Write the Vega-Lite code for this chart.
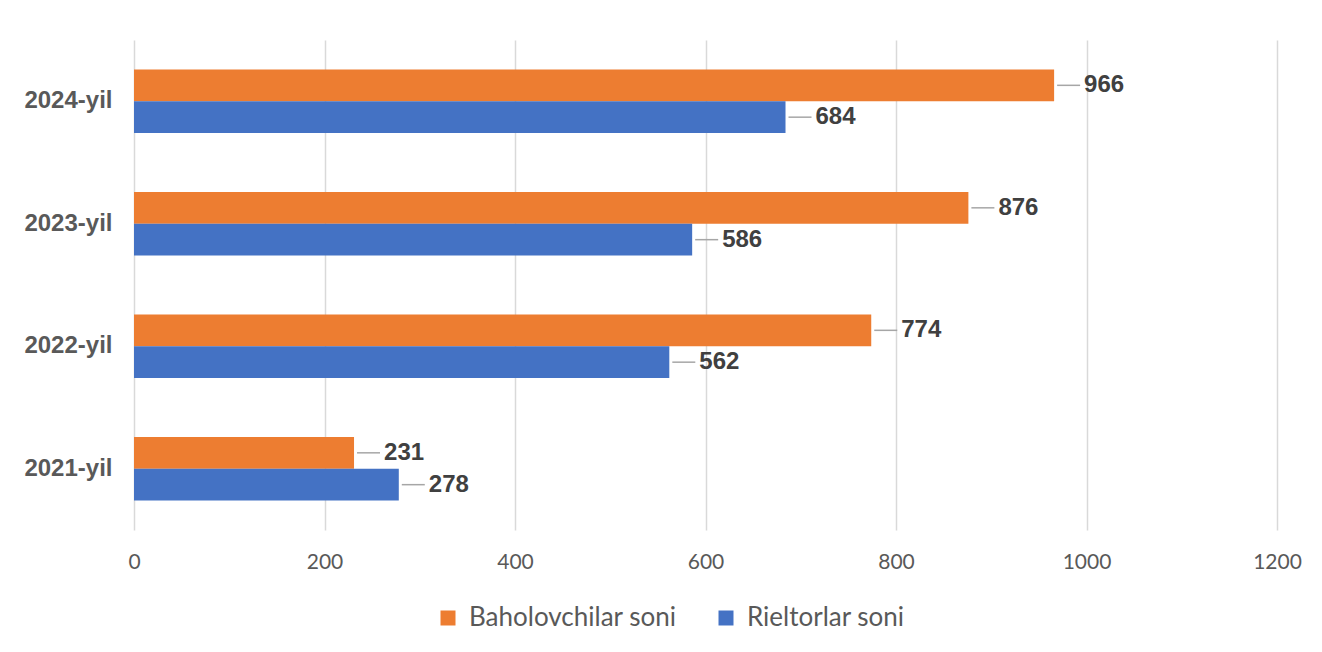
{
  "$schema": "https://vega.github.io/schema/vega-lite/v6.json",
  "width": 1143,
  "height": 490,
  "autosize": {"type": "none"},
  "padding": {"left": 134, "top": 40, "right": 45, "bottom": 122},
  "background": "white",
  "config": {"view": {"stroke": null}},
  "data": {
    "values": [
      {"year": "2024-yil", "series": "Baholovchilar soni", "value": 966},
      {"year": "2024-yil", "series": "Rieltorlar soni", "value": 684},
      {"year": "2023-yil", "series": "Baholovchilar soni", "value": 876},
      {"year": "2023-yil", "series": "Rieltorlar soni", "value": 586},
      {"year": "2022-yil", "series": "Baholovchilar soni", "value": 774},
      {"year": "2022-yil", "series": "Rieltorlar soni", "value": 562},
      {"year": "2021-yil", "series": "Baholovchilar soni", "value": 231},
      {"year": "2021-yil", "series": "Rieltorlar soni", "value": 278}
    ]
  },
  "encoding": {
    "y": {
      "field": "year",
      "type": "nominal",
      "sort": ["2024-yil", "2023-yil", "2022-yil", "2021-yil"],
      "scale": {"paddingInner": 0.48, "paddingOuter": 0.24},
      "axis": {
        "title": null,
        "domain": false,
        "ticks": false,
        "grid": false,
        "labelFont": "Liberation Sans",
        "labelFontWeight": "bold",
        "labelFontSize": 24,
        "labelColor": "#595959",
        "labelPadding": 22
      }
    },
    "yOffset": {
      "field": "series",
      "type": "nominal",
      "sort": ["Baholovchilar soni", "Rieltorlar soni"],
      "scale": {"paddingInner": 0, "paddingOuter": 0}
    },
    "x": {
      "field": "value",
      "type": "quantitative",
      "scale": {"domain": [0, 1200], "nice": false},
      "axis": {
        "title": null,
        "values": [0, 200, 400, 600, 800, 1000, 1200],
        "format": "d",
        "labelFlush": false,
        "domain": false,
        "ticks": false,
        "grid": true,
        "gridColor": "#D9D9D9",
        "gridWidth": 1.5,
        "labelFont": "Lato",
        "labelFontSize": 21,
        "labelColor": "#595959",
        "labelPadding": 21
      }
    }
  },
  "layer": [
    {
      "mark": {"type": "bar"},
      "encoding": {
        "color": {
          "field": "series",
          "type": "nominal",
          "scale": {
            "domain": ["Baholovchilar soni", "Rieltorlar soni"],
            "range": ["#ED7D31", "#4472C4"]
          },
          "legend": {
            "title": null,
            "orient": "none",
            "legendX": 301,
            "legendY": 565,
            "direction": "horizontal",
            "symbolType": "square",
            "symbolSize": 225,
            "symbolStrokeWidth": 0,
            "labelFont": "Lato",
            "labelFontSize": 26,
            "labelColor": "#595959",
            "labelOffset": 8,
            "columnPadding": 36,
            "labelLimit": 400
          }
        }
      }
    },
    {
      "mark": {"type": "rule", "xOffset": 3, "x2Offset": 26, "color": "#A6A6A6", "strokeWidth": 1.5},
      "encoding": {"x2": {"field": "value"}}
    },
    {
      "mark": {
        "type": "text",
        "align": "left",
        "baseline": "middle",
        "dx": 30,
        "font": "Liberation Sans",
        "fontWeight": "bold",
        "fontSize": 24,
        "color": "#404040"
      },
      "encoding": {"text": {"field": "value", "type": "quantitative"}}
    }
  ]
}
